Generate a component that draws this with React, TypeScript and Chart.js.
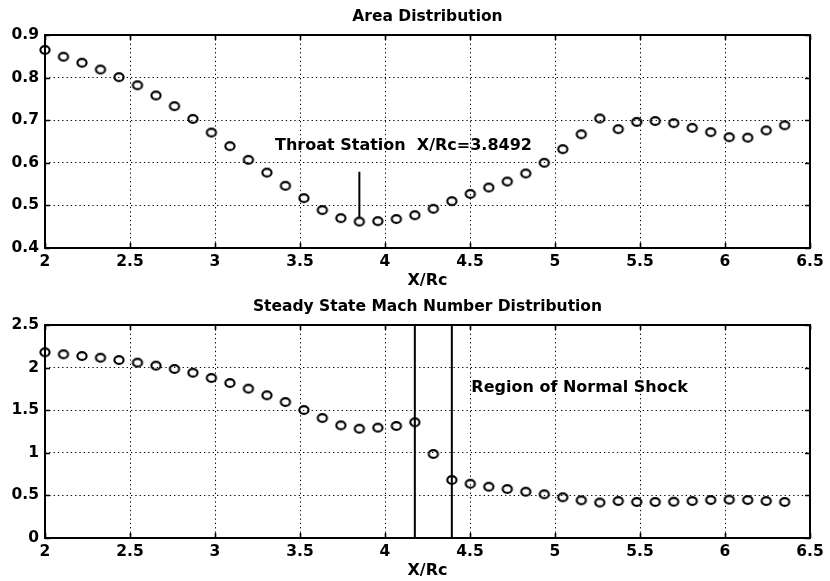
import React, { useEffect, useRef } from "react";
import { Chart, registerables } from "chart.js";

Chart.register(...registerables);

// ---- data ----
const xStations = [
  2.0, 2.1088, 2.2176, 2.3263, 2.4351, 2.5439, 2.6527, 2.7614, 2.8702, 2.979,
  3.0878, 3.1965, 3.3053, 3.4141, 3.5229, 3.6316, 3.7404, 3.8492, 3.958, 4.0667,
  4.1755, 4.2843, 4.3931, 4.5018, 4.6106, 4.7194, 4.8282, 4.937, 5.0457, 5.1545,
  5.2633, 5.3721, 5.4808, 5.5896, 5.6984, 5.8072, 5.9159, 6.0247, 6.1335, 6.2423,
  6.351,
];

const areaRatio = [
  0.865, 0.849, 0.835, 0.819, 0.801, 0.782, 0.758, 0.733, 0.703, 0.671,
  0.639, 0.607, 0.577, 0.546, 0.517, 0.489, 0.47, 0.462, 0.463, 0.468,
  0.477, 0.492, 0.51, 0.527, 0.542, 0.556, 0.575, 0.6, 0.632, 0.667,
  0.704, 0.679, 0.696, 0.698, 0.693, 0.682, 0.672, 0.66, 0.659, 0.676,
  0.688,
];

const machNumber = [
  2.18, 2.156, 2.136, 2.116, 2.089, 2.058, 2.023, 1.984, 1.94, 1.878,
  1.819, 1.753, 1.675, 1.596, 1.502, 1.408, 1.322, 1.283, 1.295, 1.315,
  1.358, 0.986, 0.681, 0.637, 0.602, 0.575, 0.543, 0.513, 0.478, 0.443,
  0.416, 0.434, 0.423, 0.423, 0.426, 0.434, 0.446, 0.45, 0.446, 0.434,
  0.423,
];

const xTicks = [2, 2.5, 3, 3.5, 4, 4.5, 5, 5.5, 6, 6.5];
const xTickLabels = ["2", "2.5", "3", "3.5", "4", "4.5", "5", "5.5", "6", "6.5"];
const areaTicks = [0.4, 0.5, 0.6, 0.7, 0.8, 0.9];
const areaTickLabels = ["0.4", "0.5", "0.6", "0.7", "0.8", "0.9"];
const machTicks = [0, 0.5, 1, 1.5, 2, 2.5];
const machTickLabels = ["0", "0.5", "1", "1.5", "2", "2.5"];

const throatStation = 3.8492;
const throatPointer = [0.579, 0.473];
const shockStations = [4.1755, 4.3931];

const chartTitles = ["Area Distribution", "Steady State Mach Number Distribution"];
const axisTitle = "X/Rc";
const throatLabel = "Throat Station  X/Rc=3.8492";
const shockLabel = "Region of Normal Shock";

// ---- styling ----
const FAMILY = '"DejaVu Sans", "Liberation Sans", sans-serif';

function makeRing(): HTMLCanvasElement {
  const c = document.createElement("canvas");
  c.width = 14;
  c.height = 12;
  const g = c.getContext("2d")!;
  g.strokeStyle = "#000";
  g.lineWidth = 2.1;
  g.beginPath();
  g.ellipse(7, 6, 4.6, 3.9, 0, 0, Math.PI * 2);
  g.stroke();
  return c;
}

type Note = { text: string; x: number; y: number };

function buildConfig(opts: {
  values: number[];
  yTicks: number[];
  yLabels: string[];
  title: string;
  lines: { x: number; y0: number; y1: number }[];
  note: Note;
  xAxisHeight: number;
  xTitlePad: number;
  ring: HTMLCanvasElement;
}): any {
  const { values, yTicks, yLabels, title, lines, note, xAxisHeight, xTitlePad, ring } = opts;
  const yMin = yTicks[0];
  const yMax = yTicks[yTicks.length - 1];

  const datasets: any[] = [
    {
      data: xStations.map((x, i) => ({ x, y: values[i] })),
      pointStyle: ring,
      pointRadius: 5,
      showLine: false,
      clip: false,
      order: 0,
    },
    ...lines.map((l) => ({
      data: [
        { x: l.x, y: l.y0 },
        { x: l.x, y: l.y1 },
      ],
      showLine: true,
      borderColor: "#000",
      borderWidth: 2,
      pointRadius: 0,
      order: 1,
    })),
  ];

  const decor = {
    id: "decor",
    beforeDatasetsDraw(chart: any) {
      const { ctx, chartArea: a, scales } = chart;
      ctx.save();
      ctx.strokeStyle = "#000";
      ctx.lineWidth = 2;
      ctx.strokeRect(a.left, a.top, a.right - a.left, a.bottom - a.top);
      ctx.lineWidth = 1.6;
      const tl = 5;
      ctx.beginPath();
      for (const v of xTicks) {
        const px = Math.round(scales.x.getPixelForValue(v)) + 0.5;
        ctx.moveTo(px, a.bottom);
        ctx.lineTo(px, a.bottom - tl);
        ctx.moveTo(px, a.top);
        ctx.lineTo(px, a.top + tl);
      }
      for (const v of yTicks) {
        const py = Math.round(scales.y.getPixelForValue(v)) + 0.5;
        ctx.moveTo(a.left, py);
        ctx.lineTo(a.left + tl, py);
        ctx.moveTo(a.right, py);
        ctx.lineTo(a.right - tl, py);
      }
      ctx.stroke();
      ctx.restore();
    },
    afterDraw(chart: any) {
      const { ctx, chartArea: a, scales } = chart;
      ctx.save();
      ctx.fillStyle = "#000";
      ctx.textBaseline = "middle";
      ctx.font = `bold 15.5px ${FAMILY}`;
      ctx.textAlign = "center";
      ctx.fillText(title, (a.left + a.right) / 2, 17);
      ctx.font = `bold 16px ${FAMILY}`;
      ctx.textAlign = "left";
      ctx.fillText(note.text, scales.x.getPixelForValue(note.x), scales.y.getPixelForValue(note.y));
      ctx.restore();
    },
  };

  const tickFont = { family: FAMILY, size: 15.5, weight: "bold" as const };

  return {
    type: "scatter",
    data: { datasets },
    options: {
      animation: false,
      responsive: false,
      devicePixelRatio: 1,
      layout: { padding: { top: 35, right: 20, left: 0, bottom: 0 } },
      plugins: {
        legend: { display: false },
        title: { display: false },
        tooltip: { enabled: false },
      },
      events: [],
      scales: {
        x: {
          type: "linear",
          min: 2,
          max: 6.5,
          afterBuildTicks: (s: any) => {
            s.ticks = xTicks.map((v) => ({ value: v }));
          },
          afterFit: (s: any) => {
            s.height = xAxisHeight;
          },
          ticks: {
            autoSkip: false,
            maxRotation: 0,
            padding: 5,
            color: "#000",
            font: tickFont,
            callback: (_v: any, i: number) => xTickLabels[i],
          },
          grid: { color: "#000", lineWidth: 1, drawTicks: false },
          border: { display: false, dash: [1.3, 3] },
          title: {
            display: true,
            text: axisTitle,
            color: "#000",
            font: { family: FAMILY, size: 16, weight: "bold" },
            padding: { top: 0, bottom: xTitlePad },
          },
        },
        y: {
          type: "linear",
          min: yMin,
          max: yMax,
          afterBuildTicks: (s: any) => {
            s.ticks = yTicks.map((v) => ({ value: v }));
          },
          afterFit: (s: any) => {
            s.width = 45;
          },
          ticks: {
            autoSkip: false,
            padding: 6,
            color: "#000",
            font: tickFont,
            callback: (_v: any, i: number) => yLabels[i],
          },
          grid: { color: "#000", lineWidth: 1, drawTicks: false },
          border: { display: false, dash: [1.3, 3] },
        },
      },
    },
    plugins: [decor],
  };
}

export default function App() {
  const topRef = useRef<HTMLCanvasElement>(null);
  const botRef = useRef<HTMLCanvasElement>(null);

  useEffect(() => {
    const ring = makeRing();
    const c1 = new Chart(
      topRef.current!,
      buildConfig({
        values: areaRatio,
        yTicks: areaTicks,
        yLabels: areaTickLabels,
        title: chartTitles[0],
        lines: [{ x: throatStation, y0: throatPointer[0], y1: throatPointer[1] }],
        note: { text: throatLabel, x: 3.353, y: 0.639 },
        xAxisHeight: 42,
        xTitlePad: 0,
        ring,
      })
    );
    const c2 = new Chart(
      botRef.current!,
      buildConfig({
        values: machNumber,
        yTicks: machTicks,
        yLabels: machTickLabels,
        title: chartTitles[1],
        lines: shockStations.map((s) => ({ x: s, y0: machTicks[0], y1: machTicks[machTicks.length - 1] })),
        note: { text: shockLabel, x: 4.508, y: 1.757 },
        xAxisHeight: 43,
        xTitlePad: 1,
        ring,
      })
    );
    return () => {
      c1.destroy();
      c2.destroy();
    };
  }, []);

  return (
    <div style={{ position: "fixed", left: 0, top: 0, width: 830, height: 581, background: "#fff" }}>
      <canvas ref={topRef} width={830} height={290} style={{ position: "absolute", left: 0, top: 0 }} />
      <canvas ref={botRef} width={830} height={291} style={{ position: "absolute", left: 0, top: 290 }} />
    </div>
  );
}
